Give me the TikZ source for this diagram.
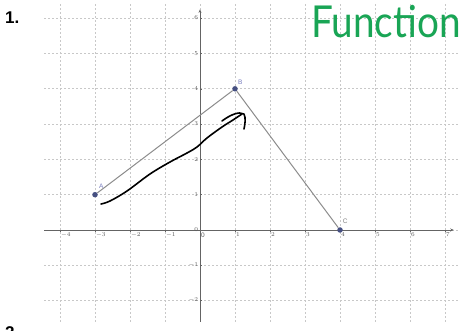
\documentclass[tikz,border=0pt]{standalone}
\usepackage{fontspec}
\setmainfont{Liberation Sans}
\newfontfamily\handfont{Lato}
\usetikzlibrary{arrows.meta}
\definecolor{gridc}{RGB}{200,200,200}
\definecolor{axisc}{RGB}{100,100,100}
\definecolor{segc}{RGB}{140,140,140}
\definecolor{ptc}{RGB}{70,80,130}
\definecolor{lblc}{RGB}{120,125,190}
\definecolor{greenc}{RGB}{25,165,85}
\definecolor{tickc}{RGB}{90,90,90}
\tikzset{
  gridline/.style={gridc, dashed, dash pattern=on 2pt off 2pt, line width=0.6pt},
  axisline/.style={axisc, line width=0.8pt},
  seg/.style={segc, line width=1pt},
  pt/.style={circle, fill=ptc, inner sep=0pt, minimum size=5.5pt},
  ticklbl/.style={font=\fontsize{6.5}{7}\selectfont, text=tickc, inner sep=1pt},
  ptlbl/.style={font=\fontsize{6.5}{7}\selectfont, inner sep=0pt},
}
\begin{document}
\begin{tikzpicture}[x=1pt,y=-1pt]
\useasboundingbox (0,0) rectangle (466,331);
\fill[white] (0,0) rectangle (466,331);
\node[font=\bfseries\fontsize{17}{18}\selectfont, anchor=west, inner sep=0pt] (num1) at (5,18) {1.};
\begin{scope}
\clip (0,0) rectangle (466,331);
\node[font=\bfseries\fontsize{17}{18}\selectfont, anchor=north west, inner sep=0pt] (num2) at (5,326) {2.};
\end{scope}
\begin{scope}[shift={(200,230)}, x=35pt, y=35.3pt]
  % grid
  \foreach \i in {-4,...,7} \draw[gridline] (\i,-2.6) -- (\i,6.4);
  \foreach \j in {-2,...,6} \draw[gridline] (-4.45,\j) -- (7.4,\j);
  % axes
  \coordinate (xl) at (-4.45,0);
  \coordinate (xr) at (7.25,0);
  \coordinate (yb) at (0,-2.6);
  \coordinate (yt) at (0,6.25);
  \draw[axisline, -{Stealth[length=3.5pt,width=3pt]}] (xl) -- (xr);
  \draw[axisline, -{Stealth[length=3.5pt,width=3pt]}] (yb) -- (yt);
  \foreach \i in {-4,...,7} {
    \draw[axisc, line width=0.5pt] (\i,0) -- ++(0,-0.06);
  }
  \foreach \i in {-4,...,-1,1,2,3,4,5,6,7} \node[ticklbl, anchor=north west] at (\i,-0.05) {$\i$};
  \node[ticklbl, anchor=north west] at (0,-0.05) {0};
  \foreach \j in {-2,...,6} {
    \draw[axisc, line width=0.5pt] (0,\j) -- ++(0.06,0);
    \node[ticklbl, anchor=south east] at (-0.02,\j-0.08) {$\j$};
  }
  % points
  \node[pt] (A) at (-3,1) {};
  \node[pt] (B) at (1,4) {};
  \node[pt] (C) at (4,0) {};
  \draw[seg] (A) -- (B) -- (C);
  \node[ptlbl, text=lblc] at (-2.82,1.24) {A};
  \node[ptlbl, text=lblc] at (1.15,4.18) {B};
  \node[ptlbl, text=gray] at (4.15,0.25) {C};
\end{scope}
% handwritten arrow
\draw[black, line width=1.6pt, line cap=round, line join=round]
  plot[smooth, tension=0.6] coordinates {(101,204) (110,201) (127,191) (150,174) (170,162) (187,153) (197,147) (207,138) (222,127) (233,120) (242,114)};
\draw[black, line width=1.6pt, line cap=round, line join=round]
  (222,121) .. controls (230,115) and (239,111) .. (244,114) .. controls (246,118) and (245,124) .. (244,129);
% handwritten title
\node[font=\handfont\fontsize{44}{44}\selectfont, text=greenc, xscale=0.88, anchor=base west, inner sep=0pt] (title) at (311,38) {Function};
\end{tikzpicture}
\end{document}
